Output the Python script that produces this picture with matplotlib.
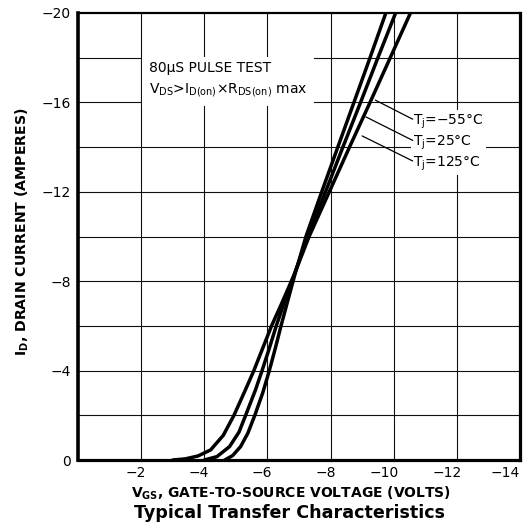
import matplotlib
matplotlib.use("Agg")
import matplotlib.pyplot as plt
from matplotlib.transforms import ScaledTranslation

plt.rcParams['font.family'] = ['DejaVu Sans']
plt.rcParams['mathtext.fontset'] = 'dejavusans'

# ---- data ----
vgs_125 = [-3.0, -3.4, -3.8, -4.2, -4.6, -4.94, -5.3, -5.57, -5.85, -6.13, -6.45, -6.85,
           -7.32, -7.96, -8.6, -9.25, -9.89, -10.53]
id_125 = [0, -0.05, -0.18, -0.45, -1.1, -2.0, -3.13, -4.0, -5.0, -6.0, -7.0, -8.3,
          -10.0, -12.0, -14.0, -16.0, -18.0, -20.0]

vgs_25 = [-4.0, -4.4, -4.8, -5.1, -5.31, -5.62, -5.83, -6.06, -6.28, -6.52, -6.85,
          -7.28, -7.84, -8.39, -8.95, -9.5, -10.06]
id_25 = [0, -0.15, -0.6, -1.25, -2.0, -3.13, -4.0, -5.0, -6.0, -7.0, -8.3,
         -10.0, -12.0, -14.0, -16.0, -18.0, -20.0]

vgs_m55 = [-4.65, -4.9, -5.15, -5.38, -5.6, -5.85, -6.06, -6.25, -6.43, -6.62, -6.85,
           -7.22, -7.72, -8.23, -8.74, -9.25, -9.75]
id_m55 = [0, -0.2, -0.6, -1.2, -2.0, -3.0, -4.0, -5.0, -6.0, -7.0, -8.2,
          -10.0, -12.0, -14.0, -16.0, -18.0, -20.0]

x_ticks = [-2, -4, -6, -8, -10, -12, -14]
x_tick_labels = ['\u22122', '\u22124', '\u22126', '\u22128', '\u221210', '\u221212', '\u221214']
y_ticks = [0, -4, -8, -12, -16, -20]
y_tick_labels = ['0', '\u22124', '\u22128', '\u221212', '\u221216', '\u221220']

temp_labels = ['T$_{\\rm j}$=\u221255\u00b0C', 'T$_{\\rm j}$=25\u00b0C', 'T$_{\\rm j}$=125\u00b0C']

# ---- figure ----
W, H = 523, 527
fig = plt.figure(figsize=(W / 100, H / 100), dpi=100)
ax = fig.add_axes([78 / W, 1 - 460 / H, (520 - 78) / W, (460 - 13) / H])

ax.set_xlim(0, -14)
ax.set_ylim(0, -20)

# grid
for v in range(-2, -14, -2):
    ax.axvline(v, color='#111111', lw=0.8, zorder=1)
for i in range(-2, -20, -2):
    ax.axhline(i, color='#111111', lw=0.8, zorder=1)

# curves
for xs, ys in [(vgs_125, id_125), (vgs_25, id_25), (vgs_m55, id_m55)]:
    ax.plot(xs, ys, color='black', lw=2.5, solid_capstyle='round',
            solid_joinstyle='round', zorder=3)

ax.set_xticks(x_ticks)
ax.set_xticklabels(x_tick_labels, fontsize=10)
ax.set_yticks(y_ticks)
ax.set_yticklabels(y_tick_labels, fontsize=10)
ax.tick_params(length=0)
ax.tick_params(axis='y', pad=5)
ax.tick_params(axis='x', pad=4)
for k, lab in enumerate(ax.get_xticklabels()):
    lab.set_horizontalalignment('right')
    dx = 5 if k < len(x_ticks) - 1 else 0
    lab.set_transform(lab.get_transform() + ScaledTranslation(dx / 100, 0, fig.dpi_scale_trans))

for side, w in [('left', 2.6), ('bottom', 2.3), ('top', 1.6), ('right', 2.3)]:
    ax.spines[side].set_linewidth(w)
    ax.spines[side].set_zorder(5)

# test condition box
ax.text(-2.25, -17.0, '80\u03bcS PULSE TEST\nV$_{\\rm DS}$>I$_{\\rm D(on)}$\u00d7R$_{\\rm DS(on)}$ max',
        fontsize=10, va='center', ha='left', linespacing=1.45, zorder=4,
        bbox=dict(facecolor='white', edgecolor='none', pad=5))

# temperature labels (one white block) with leader lines
ax.text(-10.62, -14.2, '\n'.join(temp_labels), fontsize=10, ha='left', va='center',
        linespacing=1.25, zorder=4,
        bbox=dict(facecolor='white', edgecolor='none', pad=1.5))
label_y = [-15.25, -14.3, -13.38]
leader_end = [(-9.42, -16.1), (-9.12, -15.35), (-9.0, -14.5)]
for ly, (ex, ey) in zip(label_y, leader_end):
    ax.annotate('', xy=(ex, ey), xytext=(-10.6, ly),
                arrowprops=dict(arrowstyle='-', color='black', lw=0.9,
                                shrinkA=0, shrinkB=0), zorder=4)

fig.text(22 / W, 1 - 232 / H, 'I$_{\\mathbf{D}}$, DRAIN CURRENT (AMPERES)', fontsize=10.2,
         fontweight='bold', rotation=90, ha='center', va='center')
fig.text(291 / W, 1 - 493 / H, 'V$_{\\mathbf{GS}}$, GATE-TO-SOURCE VOLTAGE (VOLTS)', fontsize=10,
         fontweight='bold', ha='center', va='center')
fig.text(290 / W, 1 - 513 / H, 'Typical Transfer Characteristics', fontsize=12.6,
         fontweight='bold', ha='center', va='center')

fig.savefig('out.png', dpi=100)
